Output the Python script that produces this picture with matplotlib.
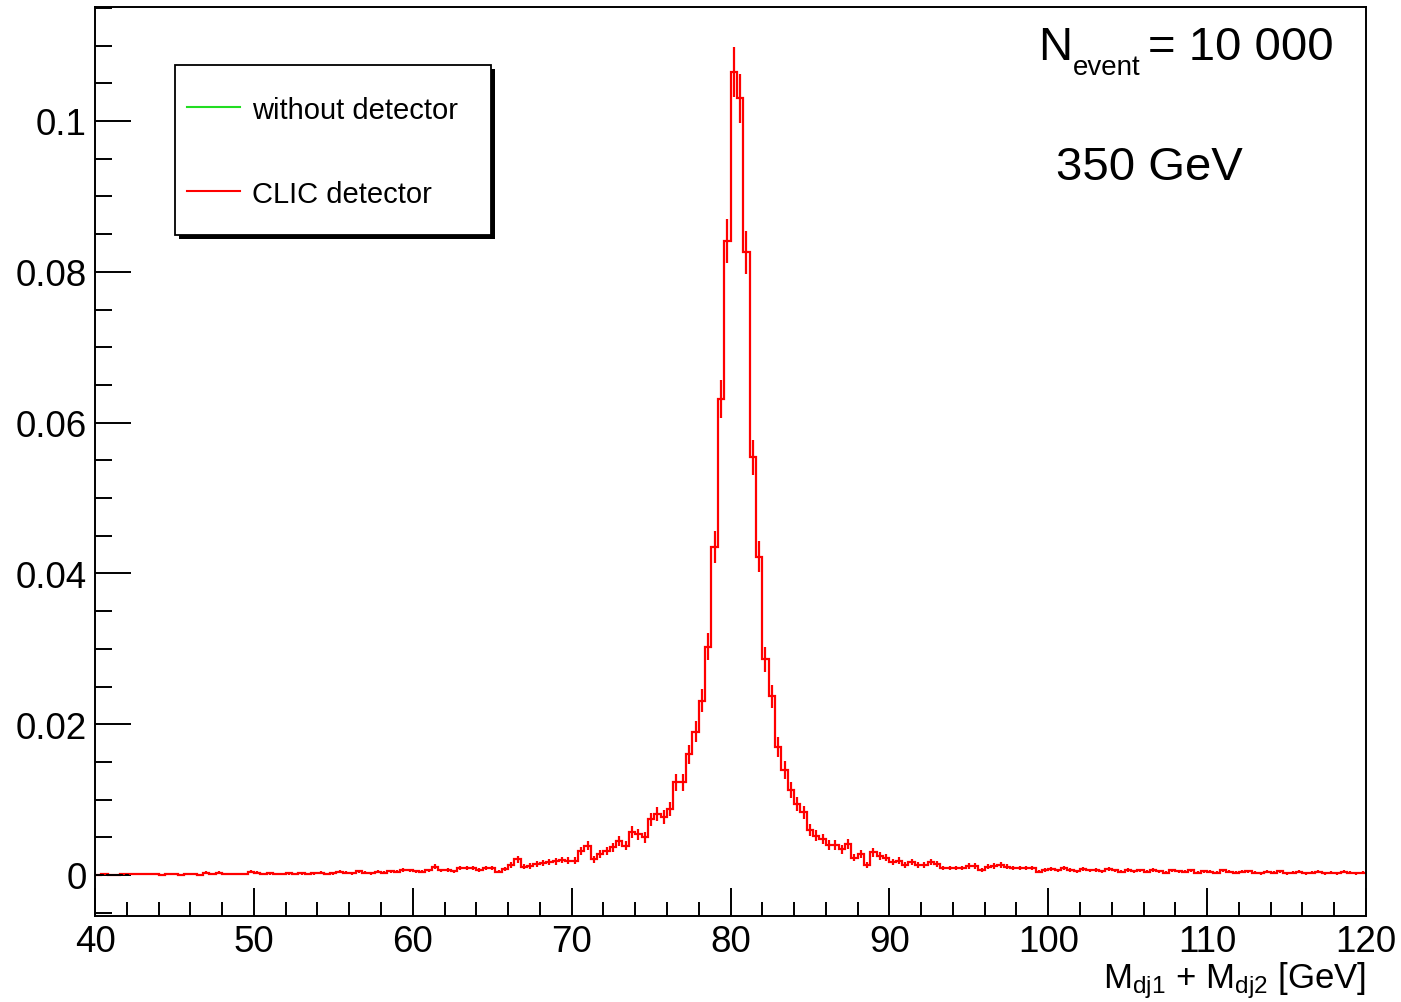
import numpy as np
import matplotlib
matplotlib.use("Agg")
import matplotlib.pyplot as plt
from matplotlib.patches import Rectangle
from matplotlib.lines import Line2D
from matplotlib.ticker import MultipleLocator, FixedLocator

plt.rcParams['font.family'] = ['Liberation Sans', 'DejaVu Sans']
plt.rcParams['mathtext.fontset'] = 'custom'
plt.rcParams['mathtext.rm'] = 'Liberation Sans'
plt.rcParams['mathtext.it'] = 'Liberation Sans:italic'
plt.rcParams['mathtext.bf'] = 'Liberation Sans:bold'

# ---------------- data ----------------
x_min, x_max = 40.0, 120.0
n_events = 10000

# bin contents (0.4 GeV bins from 40 to 120)
tail_low = [0.0, 0.0001, 0.0, 0.0, 0.0001, 0.0001, 0.0001, 0.0001, 0.0001, 0.0001,
            0.0, 0.0001, 0.0001, 0.0, 0.0001, 0.0001, 0.0, 0.0003, 0.0001, 0.0003,
            0.0001, 0.0001, 0.0001, 0.0001, 0.0004, 0.0003, 0.0001, 0.0002, 0.0001, 0.0001,
            0.0002, 0.0001, 0.0002, 0.0001, 0.0002, 0.0003, 0.0001, 0.0002, 0.0004, 0.0003,
            0.0002, 0.0005, 0.0003, 0.0002, 0.0004, 0.0003, 0.0005, 0.0004]
rise = [0.0007, 0.0006, 0.0005, 0.0004, 0.0006, 0.0011, 0.0006, 0.0007, 0.0005, 0.0009,
        0.0009, 0.0009, 0.0007, 0.0009, 0.0009, 0.0004, 0.0008, 0.0013, 0.0021, 0.0011,
        0.0012, 0.0015, 0.0016, 0.0017, 0.0018, 0.0020, 0.0019, 0.0019, 0.0032, 0.0039,
        0.0021, 0.0028, 0.0032, 0.0037, 0.0045, 0.0039, 0.0057, 0.0054, 0.0050, 0.0074,
        0.0081, 0.0077, 0.0088, 0.0123, 0.0123, 0.0160, 0.0190]
peak = [0.0231, 0.0303, 0.0435, 0.0631, 0.0841, 0.1065, 0.1030, 0.0826, 0.0554, 0.0422,
        0.0286, 0.0237, 0.0170, 0.0139, 0.0113]
fall = [0.0094, 0.0083, 0.0060, 0.0052, 0.0048, 0.0040, 0.0040, 0.0034, 0.0041, 0.0023,
        0.0028, 0.0013, 0.0030, 0.0025, 0.0023, 0.0017, 0.0019, 0.0013, 0.0017, 0.0013,
        0.0013, 0.0017, 0.0015, 0.0009, 0.0009, 0.0009, 0.0009, 0.0012, 0.0012, 0.0007,
        0.0011, 0.0012, 0.0013, 0.0011, 0.0009, 0.0009, 0.0009, 0.0009, 0.0004, 0.0007]
tail_high = [0.0008, 0.0006, 0.0009, 0.0007, 0.0005, 0.0008, 0.0006, 0.0007, 0.0005, 0.0008,
             0.0006, 0.0004, 0.0007, 0.0005, 0.0006, 0.0004, 0.0007, 0.0005, 0.0003, 0.0006,
             0.0005, 0.0004, 0.0006, 0.0003, 0.0005, 0.0004, 0.0003, 0.0006, 0.0004, 0.0003,
             0.0004, 0.0005, 0.0003, 0.0002, 0.0004, 0.0003, 0.0005, 0.0002, 0.0003, 0.0004,
             0.0002, 0.0003, 0.0004, 0.0002, 0.0003, 0.0002, 0.0004, 0.0003, 0.0002, 0.0003]

clic_detector = np.array(tail_low + rise + peak + fall + tail_high)
without_detector = clic_detector.copy()

y_ticks = [0.0, 0.02, 0.04, 0.06, 0.08, 0.1]
y_tick_labels = ["0", "0.02", "0.04", "0.06", "0.08", "0.1"]
x_ticks = [40, 50, 60, 70, 80, 90, 100, 110, 120]
legend_labels = ["without detector", "CLIC detector"]

# ---------------- figure ----------------
W, H = 1401, 1003
fig = plt.figure(figsize=(W / 100, H / 100), dpi=100)
fig.patch.set_facecolor('white')

def fx(px):
    return px / W

def fy(py):
    return 1 - py / H

ax_l, ax_r, ax_t, ax_b = 95, 1366, 8, 917
ax = fig.add_axes([fx(ax_l), fy(ax_b), (ax_r - ax_l) / W, (ax_b - ax_t) / H])

edges = np.linspace(x_min, x_max, len(clic_detector) + 1)
centers = 0.5 * (edges[:-1] + edges[1:])

green = '#22dd22'
red = '#ff0000'

ax.stairs(without_detector, edges, color=green, lw=1.4, baseline=None)
ax.errorbar(centers, without_detector, yerr=np.sqrt(without_detector / n_events),
            fmt='none', ecolor=green, elinewidth=1.4, capsize=0)
ax.stairs(clic_detector, edges, color=red, lw=1.6, baseline=None)
ax.errorbar(centers, clic_detector, yerr=np.sqrt(clic_detector / n_events),
            fmt='none', ecolor=red, elinewidth=1.6, capsize=0)

px_per_unit = (876 - 122) / 0.1
ax.set_xlim(x_min, x_max)
ax.set_ylim(-(ax_b - 876) / px_per_unit, (876 - ax_t) / px_per_unit)

ax.xaxis.set_major_locator(FixedLocator(x_ticks))
ax.xaxis.set_minor_locator(MultipleLocator(2))
ax.yaxis.set_major_locator(FixedLocator(y_ticks))
ax.set_yticklabels(y_tick_labels)
ax.yaxis.set_minor_locator(MultipleLocator(0.005))

ax.tick_params(axis='both', which='both', direction='in', top=False, right=False,
               colors='black', width=1.4, labelsize=26.5)
ax.tick_params(axis='x', which='major', length=20, pad=6)
ax.tick_params(axis='x', which='minor', length=10)
ax.tick_params(axis='y', which='major', length=26, pad=6)
ax.tick_params(axis='y', which='minor', length=12)

for s in ax.spines.values():
    s.set_linewidth(1.4)
    s.set_color('black')

# axis title
fig.text(fx(1366), fy(988), r"M$_{\rm dj1}$ + M$_{\rm dj2}$ [GeV]", ha='right',
         va='baseline', fontsize=25)

# annotations
fig.text(fx(1038), fy(60), "N", ha='left', va='baseline', fontsize=34)
fig.text(fx(1073), fy(75), "event", ha='left', va='baseline', fontsize=20)
fig.text(fx(1148), fy(60), "= 10 000", ha='left', va='baseline', fontsize=34)
fig.text(fx(1056), fy(180), "350 GeV", ha='left', va='baseline', fontsize=34)

# legend box with shadow
lx0, ly0, lx1, ly1 = 175, 66, 491, 236
shadow = Rectangle((fx(lx0 + 4), fy(ly1 + 4)), (lx1 - lx0) / W, (ly1 - ly0) / H,
                   transform=fig.transFigure, facecolor='black', edgecolor='none', zorder=5)
box = Rectangle((fx(lx0), fy(ly1)), (lx1 - lx0) / W, (ly1 - ly0) / H,
                transform=fig.transFigure, facecolor='white', edgecolor='black',
                lw=1.3, zorder=6)
fig.patches.extend([shadow, box])
for yy, col, lab in [(108, green, legend_labels[0]), (192, red, legend_labels[1])]:
    fig.lines.append(Line2D([fx(187), fx(240)], [fy(yy), fy(yy)], transform=fig.transFigure,
                            color=col, lw=1.5, zorder=7))
    fig.text(fx(252), fy(yy + 3), lab, ha='left', va='center', fontsize=21, zorder=8)

fig.savefig("out.png", dpi=100, facecolor='white')
